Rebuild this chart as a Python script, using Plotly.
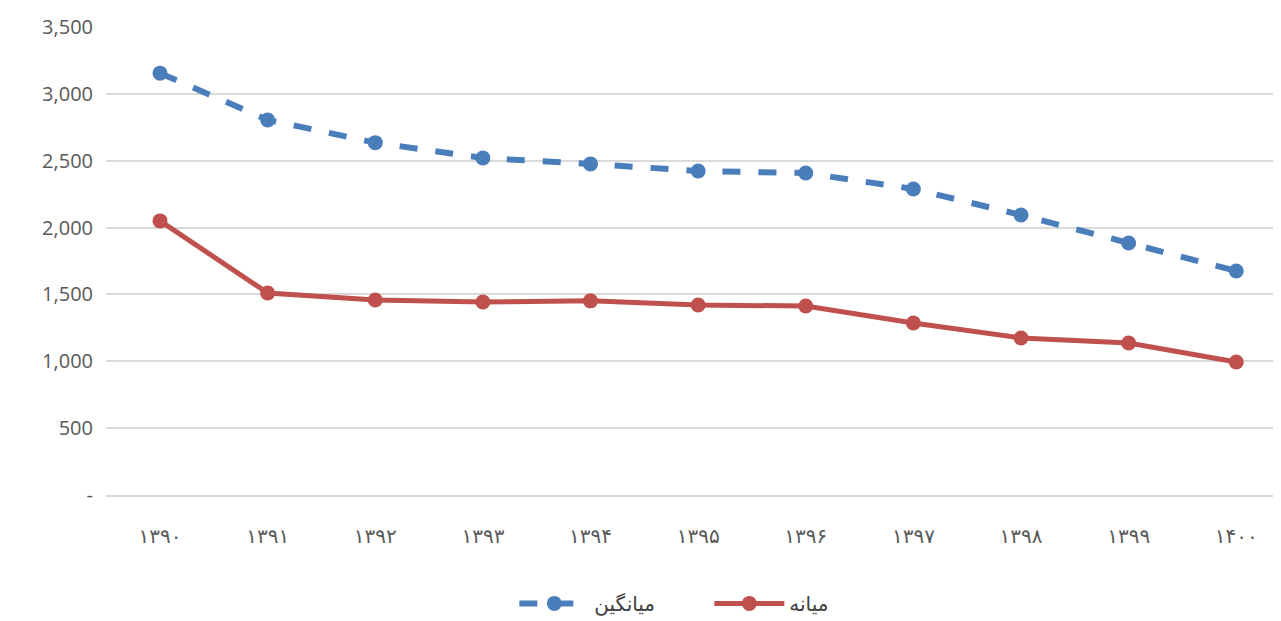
import plotly.graph_objects as go

years = ["۱۳۹۰","۱۳۹۱","۱۳۹۲","۱۳۹۳","۱۳۹۴","۱۳۹۵","۱۳۹۶","۱۳۹۷","۱۳۹۸","۱۳۹۹","۱۴۰۰"]
mean_vals = [3155, 2805, 2635, 2520, 2476, 2423, 2408, 2289, 2094, 1885, 1675]
median_vals = [2050, 1511, 1458, 1443, 1452, 1421, 1413, 1286, 1174, 1137, 995]
ytick_vals = [0, 500, 1000, 1500, 2000, 2500, 3000, 3500]
ytick_text = ["-", "500", "1,000", "1,500", "2,000", "2,500", "3,000", "3,500"]

fig = go.Figure()
fig.add_trace(go.Scatter(x=years, y=mean_vals, name="میانگین", mode="lines+markers",
    line=dict(color="#4a7ebb", width=6, dash="dash"), marker=dict(size=15, color="#4a7ebb")))
fig.add_trace(go.Scatter(x=years, y=median_vals, name="میانه", mode="lines+markers",
    line=dict(color="#c0504d", width=5), marker=dict(size=15, color="#c0504d")))

fig.update_layout(
    width=1281, height=621, paper_bgcolor="white", plot_bgcolor="white",
    margin=dict(l=98, r=0, t=19, b=134, autoexpand=False),
    font=dict(family="Open Sans, DejaVu Sans", size=20, color="#595959"),
    showlegend=True,
    legend=dict(orientation="h", x=0.51, xanchor="center", y=-0.19, yanchor="top",
                font=dict(size=20, color="#404040"), entrywidth=110, itemwidth=70),
    xaxis=dict(showgrid=False, showline=True, linecolor="#d9d9d9", linewidth=1.5,
               range=[-0.502, 10.49],
               ticks="outside", ticklen=22, tickcolor="rgba(0,0,0,0)", tickfont=dict(size=20)),
    yaxis=dict(range=[0, 3500], tickvals=ytick_vals, ticktext=ytick_text,
               gridcolor="#d9d9d9", gridwidth=1.5, zeroline=False,
               ticks="outside", ticklen=8, tickcolor="rgba(0,0,0,0)", tickfont=dict(size=20)),
)
fig.write_html("out.html")
